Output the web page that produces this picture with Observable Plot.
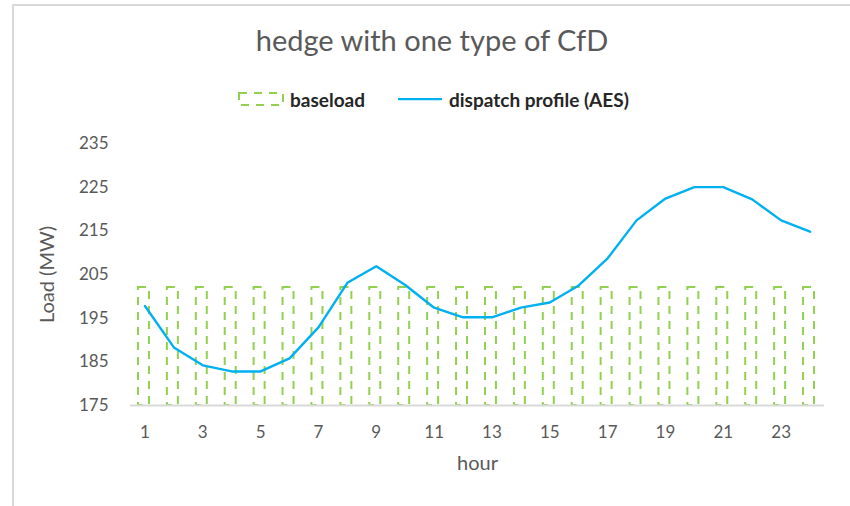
<!DOCTYPE html>
<html>
<head>
<meta charset="utf-8">
<script src="https://cdn.jsdelivr.net/npm/d3@7"></script>
<script src="https://cdn.jsdelivr.net/npm/@observablehq/plot@0.6"></script>
<style>
  body { margin: 0; width: 850px; height: 506px; position: relative; overflow: hidden; background: #fff; font-family: Lato, "Open Sans", sans-serif; }
  #frame { position: absolute; left: 12px; top: 4px; width: 900px; height: 600px; border-left: 2px solid #d9d9d9; border-top: 2px solid #d9d9d9; pointer-events: none; }
  #title { position: absolute; top: 22px; left: 0; width: 864px; text-align: center; font-size: 29px; color: #595959; white-space: nowrap; }
  #legend { position: absolute; top: 87px; left: 238px; height: 24px; display: flex; align-items: center; font-size: 19px; font-weight: bold; color: #262626; white-space: nowrap; }
  #legend svg { display: block; }
  #chart { position: absolute; top: 120px; left: 0; }
</style>
</head>
<body>
<div id="title">hedge with one type of CfD</div>
<div id="legend">
  <svg width="46" height="14"><rect x="1" y="1" width="44" height="12" fill="none" stroke="#92D050" stroke-width="2" stroke-dasharray="8,7"></rect></svg>
  <span style="margin-left:6px">baseload</span>
  <svg width="46" height="14" style="margin-left:33px"><line x1="0" y1="7" x2="44" y2="7" stroke="#00B0F0" stroke-width="2.25"></line></svg>
  <span style="margin-left:5px">dispatch profile (AES)</span>
</div>
<div id="chart"></div>
<div id="frame"></div>
<script>
const hours = d3.range(1, 25);
const baseload = [202,202,202,202,202,202,202,202,202,202,202,202,202,202,202,202,202,202,202,202,202,202,202,202];
const dispatch = [197.8,188.3,184.2,182.8,182.8,185.8,192.9,203.1,206.9,202.6,197.4,195.2,195.2,197.4,198.6,202.5,208.7,217.4,222.4,225.0,225.0,222.2,217.4,214.8];
const xTicks = [1,3,5,7,9,11,13,15,17,19,21,23];
const yTicks = [175,185,195,205,215,225,235];
const yTitle = ["Load (MW)"];
const xTitle = ["hour"];

const baseRows = hours.map((h, i) => ({hour: h, value: baseload[i]}));
const lineRows = hours.map((h, i) => ({hour: h, value: dispatch[i]}));

const chart = Plot.plot({
  width: 850,
  height: 386,
  marginLeft: 130,
  marginRight: 26,
  marginTop: 23,
  marginBottom: 101,
  style: {fontFamily: "Lato, 'Open Sans', sans-serif", fontSize: "17px", color: "#595959", background: "transparent"},
  x: {type: "band", domain: hours, paddingInner: 0.62, paddingOuter: 0.31, round: false},
  y: {domain: [175, 235]},
  marks: [
    Plot.barY(baseRows, {x: "hour", y1: 175, y2: "value", fill: "none", stroke: "#92D050", strokeWidth: 2, strokeDasharray: "8,7", dx: -1}),
    Plot.ruleY([175], {stroke: "#d9d9d9", strokeWidth: 2}),
    Plot.lineY(lineRows, {x: "hour", y: "value", stroke: "#00B0F0", strokeWidth: 2.4}),
    Plot.axisY({ticks: yTicks, tickSize: 0, tickPadding: 22, label: null, fontSize: 17}),
    Plot.axisX({ticks: xTicks, tickSize: 0, tickPadding: 20, label: null, fontSize: 17}),
    Plot.text(yTitle, {text: d => d, frameAnchor: "left", textAnchor: "middle", rotate: -90, dx: -83, fontSize: 20, fill: "#595959"}),
    Plot.text(xTitle, {text: d => d, frameAnchor: "bottom", dy: 64, fontSize: 20, fill: "#595959"})
  ]
});
document.getElementById("chart").appendChild(chart);
</script>
</body>
</html>
